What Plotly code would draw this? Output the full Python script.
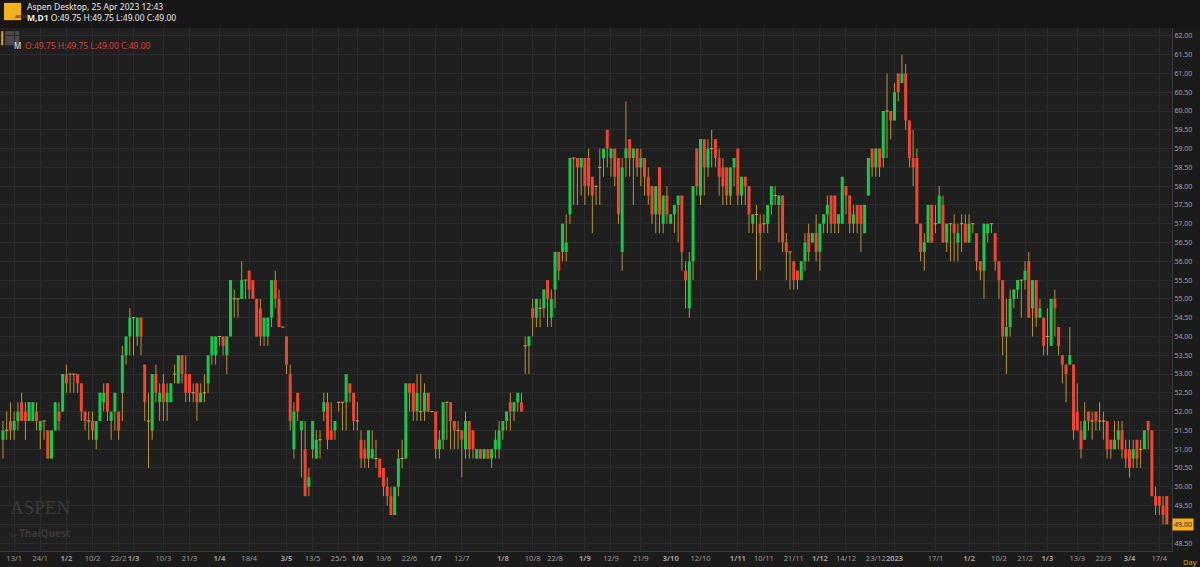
import plotly.graph_objects as go

# one string per daily candle: open close high low
candles = """
51.25 51.5 51.75 50.75|51.5 51.5 52.0 51.25|51.75 51.5 52.25 51.25|51.5 51.75 52.0 51.25|51.75 52.0 52.25 51.5
52.25 51.75 52.5 51.75|52.0 51.75 52.25 51.25|51.75 52.25 52.25 51.75|51.75 52.25 52.25 51.75|52.0 51.75 52.25 51.5
51.5 51.75 51.75 51.0|51.75 51.75 51.75 51.25|51.5 50.75 51.5 50.75|50.75 51.5 51.5 50.75|51.5 52.25 52.25 51.5
52.0 51.75 52.25 51.5|52.0 53.0 53.0 52.0|53.0 52.75 53.25 52.5|53.0 53.0 53.0 52.5|53.0 53.0 53.0 52.5
53.0 52.75 53.0 52.5|52.75 52.0 52.75 51.75|52.0 51.75 52.0 51.5|51.75 51.75 52.0 51.25|51.75 51.5 52.0 51.25
51.25 51.75 51.75 51.0|51.75 52.5 52.5 51.75|52.25 52.5 52.75 52.0|52.75 52.0 52.75 51.75|51.75 52.0 52.0 51.25
52.0 52.5 52.5 51.5|52.0 51.5 52.0 51.25|52.5 53.5 53.75 51.75|53.5 54.0 54.0 53.25|54.0 54.5 54.75 53.5
54.5 54.5 54.5 53.5|54.0 54.5 54.5 53.75|54.5 54.0 54.5 53.5|53.25 52.25 53.25 51.75|51.75 51.75 52.5 50.5
51.5 53.0 53.0 51.25|53.0 52.5 53.25 52.25|52.25 52.5 52.75 51.75|52.75 52.25 53.0 51.75|52.25 52.5 52.75 51.75
52.25 52.75 52.75 52.25|53.0 53.0 53.25 52.75|52.75 53.5 53.5 52.75|53.5 53.0 53.5 52.75|53.0 52.5 53.5 52.25
53.0 52.5 53.0 52.25|52.5 52.5 52.75 52.25|52.75 52.25 52.75 51.75|52.25 52.5 52.75 52.25|52.5 52.5 53.0 52.25
52.75 53.5 53.5 52.5|53.5 54.0 54.0 53.25|53.5 54.0 54.0 53.25|54.0 54.0 54.0 53.75|54.0 53.75 54.0 53.5
53.5 54.0 54.0 53.0|54.0 55.5 55.5 54.0|55.0 55.0 55.25 54.5|55.0 55.0 55.0 54.5|55.0 55.5 56.0 55.0
55.5 55.5 55.5 55.0|55.75 55.25 55.75 55.0|55.5 55.0 55.5 55.0|55.0 54.0 55.0 54.0|54.75 54.0 55.0 53.75
54.0 54.5 54.5 53.75|54.0 54.5 54.5 53.75|54.5 55.5 55.5 54.25|55.5 55.0 55.75 54.75|55.0 54.25 55.25 54.25
54.25 54.25 54.25 54.25|54.0 53.25 54.0 53.0|53.0 51.75 53.25 51.5|51.0 52.0 52.25 50.75|52.5 52.0 52.5 51.75
51.5 51.75 51.75 50.25|51.0 49.75 51.75 49.75|50.0 50.25 50.5 49.75|51.0 51.75 51.75 50.75|50.75 51.25 51.5 50.75
51.25 51.25 51.5 50.75|52.0 52.25 52.5 51.75|52.25 51.25 52.5 51.0|51.5 51.25 52.25 51.25|51.5 51.75 51.75 51.25
52.25 52.25 52.25 52.0|52.25 52.25 52.25 51.5|52.25 53.0 53.0 51.5|52.75 52.5 52.75 52.25|52.5 51.75 52.5 51.5
51.75 51.75 52.25 51.5|51.25 50.75 51.5 50.5|51.0 50.75 51.25 50.5|50.75 51.5 51.5 50.5|50.75 51.0 51.5 50.75
50.75 50.75 51.25 50.5|50.75 50.25 50.75 50.25|50.5 50.0 50.5 49.75|50.0 49.75 50.25 49.5|49.75 49.25 50.0 49.25
49.25 50.0 50.0 49.25|50.0 50.75 51.0 49.75|50.75 50.75 51.25 50.5|50.75 52.75 52.75 50.75|52.75 52.5 52.75 52.0
52.75 52.0 52.75 51.75|52.0 52.5 53.0 51.75|52.0 52.0 53.0 51.75|52.0 52.5 52.75 51.75|52.5 52.0 52.5 52.0
52.0 52.0 52.0 52.0|52.0 51.0 52.0 50.75|51.0 51.25 51.5 50.75|51.25 52.25 52.25 51.0|52.25 52.25 52.25 51.25
52.25 51.75 52.25 51.0|51.75 51.5 51.75 51.0|51.5 51.5 51.75 51.0|51.5 51.25 51.5 50.25|51.0 51.75 52.0 50.75
51.75 51.0 51.75 50.75|51.5 51.0 51.5 50.75|50.75 51.0 51.0 50.75|51.0 50.75 51.0 50.75|50.75 51.0 51.0 50.75
51.0 50.75 51.0 50.75|50.75 51.0 51.0 50.5|51.0 51.25 51.5 50.75|51.0 51.5 51.75 50.75|51.5 51.75 51.75 51.25
51.75 52.0 52.0 51.5|52.25 52.0 52.5 51.5|52.0 52.25 52.25 51.75|52.25 52.5 52.5 52.0|52.25 52.0 52.5 52.0
53.75 53.75 54.0 53.0|53.75 54.0 54.0 53.0|54.75 54.5 55.0 54.0|54.5 55.0 55.0 54.25|54.75 54.75 55.0 54.25
54.75 55.25 55.25 54.5|55.5 55.0 55.5 54.25|54.5 55.0 55.25 54.25|55.25 56.25 56.25 54.75|56.25 55.75 56.25 55.5
56.25 57.0 57.0 56.0|56.25 56.5 57.25 56.0|57.25 58.75 58.75 57.0|58.75 58.75 58.75 57.5|58.75 58.5 58.75 57.5
58.5 58.75 58.75 57.75|58.75 58.0 58.75 57.5|58.75 58.0 59.0 57.75|58.25 57.75 58.25 56.75|58.0 58.0 58.0 57.5
58.5 58.5 59.0 57.5|58.75 59.0 59.0 58.25|59.5 59.0 59.5 58.5|58.75 59.0 59.0 58.25|59.0 58.25 59.0 58.0
58.75 57.25 58.75 57.0|56.25 58.5 58.75 55.75|58.75 59.0 60.25 58.25|59.25 58.75 59.25 58.25|58.75 59.0 59.0 57.5
59.0 58.5 59.0 58.25|58.5 58.75 59.0 58.0|58.75 58.25 58.75 57.75|58.25 57.75 58.5 57.5|58.0 57.25 58.0 57.0
57.25 58.0 58.0 56.75|58.5 57.25 58.5 56.75|57.0 57.75 57.75 56.75|57.75 57.25 58.0 57.0|57.0 57.25 57.25 57.0
57.25 57.5 57.5 56.75|57.5 57.75 57.75 56.5|57.75 56.25 57.75 55.75|55.75 55.5 56.0 54.75|54.75 56.0 56.25 54.5
56.0 58.0 58.0 55.5|59.0 58.0 59.0 57.75|57.75 59.25 59.25 57.5|59.25 58.5 59.25 57.75|58.5 59.0 59.25 58.25
59.0 59.0 59.5 58.5|59.25 58.75 59.25 58.5|58.75 58.25 59.0 57.75|58.5 58.0 58.75 57.5|58.5 57.75 58.5 57.5
57.75 58.5 58.5 57.5|58.5 58.75 58.75 58.0|59.0 57.75 59.0 57.5|57.75 58.25 58.25 57.5|58.25 58.0 58.25 57.5
58.0 57.25 58.0 56.75|57.0 57.25 57.25 56.75|57.25 57.25 57.5 55.5|57.0 56.75 57.25 55.75|57.0 57.0 57.25 56.75
57.0 57.5 57.5 56.75|57.5 58.0 58.0 57.25|57.75 57.75 58.0 57.5|57.5 57.75 57.75 56.5|57.75 56.5 57.75 56.25
56.5 56.25 56.75 55.5|56.25 56.25 56.25 55.25|56.0 55.5 56.0 55.25|55.75 55.5 55.75 55.25|55.5 56.0 56.0 55.5
56.0 56.5 56.75 55.75|56.75 56.25 57.0 56.0|56.5 56.75 56.75 56.5|56.75 56.25 57.25 56.0|56.25 57.0 57.0 55.75
57.0 57.25 57.25 56.75|57.25 57.5 57.75 56.75|57.75 57.0 57.75 56.75|57.75 57.0 57.75 56.75|57.0 57.25 57.25 56.75
57.0 58.25 58.25 57.0|58.0 57.75 58.0 57.25|57.75 57.0 57.75 56.75|57.0 57.25 57.5 56.75|57.5 57.0 57.5 56.75
57.5 57.0 57.5 56.25|56.75 57.5 57.5 56.75|57.75 58.75 58.75 57.75|59.0 58.5 59.0 58.25|58.5 59.0 59.0 58.25
59.0 58.5 59.0 58.25|58.75 60.0 60.0 58.5|60.0 60.0 61.0 58.75|60.0 59.75 60.0 59.25|59.75 60.5 60.75 59.75
61.0 60.5 61.0 60.25|60.75 61.0 61.5 60.75|61.0 59.75 61.25 59.5|59.75 58.75 59.75 58.5|58.75 58.5 59.5 58.0
58.75 57.0 59.0 57.0|57.0 56.25 57.0 56.0|56.25 56.5 56.75 55.75|56.5 57.5 57.5 56.5|57.5 56.5 57.5 56.5
57.0 57.0 57.5 56.75|57.0 57.75 58.0 57.0|57.5 56.5 57.75 56.5|56.5 57.0 57.0 56.25|57.0 57.0 57.0 56.0
57.0 56.75 57.25 56.0|56.5 56.75 57.0 56.0|57.0 57.0 57.25 56.25|57.0 56.5 57.25 56.5|56.5 57.0 57.25 56.5
57.0 57.0 57.0 56.75|56.75 56.0 56.75 55.75|56.0 55.75 56.0 55.5|55.75 57.0 57.0 55.0|56.75 57.0 57.0 56.5
57.0 57.0 57.0 56.75|56.75 56.0 56.75 55.75|56.0 55.5 56.0 55.0|55.5 54.0 55.5 53.5|54.0 54.25 55.0 53.0
54.25 55.0 55.25 54.0|55.0 55.25 55.25 54.75|55.25 55.5 55.5 55.0|55.5 55.5 55.5 54.5|55.5 55.75 56.0 55.25
56.0 54.5 56.25 54.5|54.75 55.5 55.5 54.0|55.5 54.5 55.5 54.25|54.5 54.75 55.0 54.5|54.5 53.75 54.5 53.5
54.0 54.0 54.75 53.5|53.75 55.0 55.0 53.75|55.0 54.75 55.25 54.0|54.25 53.75 54.25 53.5|53.5 53.25 53.5 52.75
53.25 53.0 53.25 52.25|53.25 53.5 54.25 53.25|53.25 51.5 53.25 51.25|52.0 51.5 52.75 51.5|51.5 51.0 51.75 50.75
51.25 51.75 52.25 51.25|52.0 51.75 52.0 51.5|51.75 51.75 52.0 51.25|52.0 51.75 52.0 51.5|51.75 51.75 52.25 51.5
51.75 51.75 52.0 51.25|51.75 51.0 51.75 50.75|51.25 51.0 51.25 50.75|51.0 51.25 51.75 51.0|51.25 51.5 51.75 51.0
51.5 51.0 51.75 50.75|51.0 50.75 51.25 50.5|51.0 50.5 51.25 50.25|50.75 51.0 51.25 50.5|51.25 50.75 51.25 50.5
51.0 51.0 51.25 50.5|51.0 51.5 51.5 51.0|51.75 51.5 51.75 51.0|51.5 49.75 51.5 49.75|49.75 49.5 50.0 49.25
49.75 49.5 49.75 49.25|49.5 49.25 49.75 49.0|49.75 49.0 49.75 49.0
"""

tick_labels = ["13/1", "24/1", "<b>1/2</b>", "10/2", "22/2", "<b>1/3</b>", "10/3", "21/3",
               "<b>1/4</b>", "18/4", "<b>3/5</b>", "13/5", "25/5", "<b>1/6</b>", "13/6", "22/6",
               "<b>1/7</b>", "12/7", "<b>1/8</b>", "10/8", "22/8", "<b>1/9</b>", "12/9", "21/9",
               "<b>3/10</b>", "12/10", "<b>1/11</b>", "10/11", "21/11", "<b>1/12</b>", "14/12",
               "23/12", "<b>2023</b>", "17/1", "<b>1/2</b>", "10/2", "21/2", "<b>1/3</b>",
               "13/3", "22/3", "<b>3/4</b>", "17/4"]
tick_idx = [3, 10, 17, 24, 31, 35, 43, 50, 58, 66, 76, 83, 90, 95, 102, 109, 116, 123, 134,
            142, 148, 156, 163, 171, 179, 187, 197, 204, 212, 219, 226, 234, 239, 250, 259,
            267, 274, 280, 288, 295, 302, 310]

rows = [c.split() for c in candles.replace("\n", "|").split("|") if c.strip()]
opens = [float(r[0]) for r in rows]
closes = [float(r[1]) for r in rows]
highs = [float(r[2]) for r in rows]
lows = [float(r[3]) for r in rows]

GREEN, RED, WICK, DOJI = "#19c84a", "#f0452f", "#b8943a", "#e0a040"

wx, wy = [], []
gx, gy, rx, ry, dx, dy = [], [], [], [], [], []
for i, (o, h, l, c) in enumerate(zip(opens, highs, lows, closes)):
    wx += [i, i, None]; wy += [l, h, None]
    if c > o:
        gx += [i, i, None]; gy += [o, c, None]
    elif c < o:
        rx += [i, i, None]; ry += [o, c, None]
    else:
        dx += [i - 0.45, i + 0.45, None]; dy += [o, o, None]

fig = go.Figure()
fig.add_trace(go.Scatter(x=wx, y=wy, mode="lines", line=dict(color=WICK, width=1),
                         hoverinfo="skip", showlegend=False))
fig.add_trace(go.Scatter(x=gx, y=gy, mode="lines", line=dict(color=GREEN, width=3),
                         hoverinfo="skip", showlegend=False))
fig.add_trace(go.Scatter(x=rx, y=ry, mode="lines", line=dict(color=RED, width=3),
                         hoverinfo="skip", showlegend=False))
fig.add_trace(go.Scatter(x=dx, y=dy, mode="lines", line=dict(color=DOJI, width=1),
                         hoverinfo="skip", showlegend=False))

ytick = [48.5 + 0.5 * k for k in range(28)]
fig.update_layout(
    width=1200, height=567, paper_bgcolor="#1b1b1b", plot_bgcolor="#1f1f1f",
    margin=dict(l=0, r=28, t=28, b=16),
    font=dict(family="Noto Sans", color="#a8a8a8", size=7),
    xaxis=dict(range=[-0.8, 313.4], tickvals=tick_idx, ticktext=tick_labels, tickangle=0,
               showgrid=True, gridcolor="#2b2b2b", zeroline=False,
               tickfont=dict(size=7.5, color="#9a9a9a"), ticks="",
               showline=True, linecolor="#3a3a3a"),
    yaxis=dict(range=[48.29, 62.21], side="right", tickvals=ytick,
               ticktext=[f"{v:.2f}" for v in ytick], showgrid=True, gridcolor="#2b2b2b",
               zeroline=False, tickfont=dict(size=7, color="#a0a0a0"), ticks="",
               showline=True, linecolor="#3a3a3a"),
)

# header
fig.add_shape(type="rect", xref="paper", yref="paper", x0=-0.01, x1=1.04, y0=1.0, y1=1.06,
              fillcolor="#161616", line_width=0, layer="below")
fig.add_shape(type="rect", xref="paper", yref="paper", x0=0.0034, x1=0.018, y0=1.015,
              y1=1.048, fillcolor="#f2b21b", line_width=0)
fig.add_annotation(xref="paper", yref="paper", x=0.0107, y=1.031, text="<b>ASPEN</b>",
                   showarrow=False, font=dict(size=4, color="#7a2a10"))
fig.add_annotation(xref="paper", yref="paper", x=0.0215, y=1.056, xanchor="left",
                   yanchor="top", showarrow=False, align="left",
                   text="Aspen Desktop, 25 Apr 2023 12:43<br><b>M,D1</b> O:49.75 H:49.75 L:49.00 C:49.00",
                   font=dict(size=8.5, color="#e8e8e8"))
fig.add_shape(type="rect", xref="paper", yref="paper", x0=0.001, x1=0.0028, y0=0.967,
              y1=0.994, fillcolor="#e09a20", line_width=0)
fig.add_shape(type="rect", xref="paper", yref="paper", x0=0.0045, x1=0.0165, y0=0.967,
              y1=0.994, fillcolor="#4a4a4a", line_width=0, layer="below")
fig.add_annotation(xref="paper", yref="paper", x=0.0105, y=0.9805, text="M", showarrow=False,
                   font=dict(size=8, color="#e8e8e8"))
fig.add_annotation(xref="paper", yref="paper", x=0.02, y=0.9805, xanchor="left",
                   text="O:49.75 H:49.75 L:49.00 C:49.00", showarrow=False,
                   font=dict(size=8.5, color="#d8432f"))
# watermark
fig.add_annotation(xref="paper", yref="paper", x=0.007, y=0.06, xanchor="left",
                   text="ASPEN", showarrow=False,
                   font=dict(family="Liberation Serif", size=19, color="#3a3a3a"))
fig.add_annotation(xref="paper", yref="paper", x=0.007, y=0.018, xanchor="left",
                   text="<span style='font-size:6px'>by</span> <b>ThaiQuest</b>",
                   showarrow=False, font=dict(size=10, color="#3a3a3a"))
# last price and timeframe
fig.add_annotation(xref="paper", yref="y", x=1.0, y=closes[-1], xanchor="left",
                   text="49.00", showarrow=False, bgcolor="#f2b21b",
                   font=dict(size=7, color="#222222"), borderpad=1)
fig.add_annotation(xref="paper", yref="paper", x=1.008, y=-0.008, xanchor="left",
                   yanchor="top", text="Day", showarrow=False,
                   font=dict(size=7.5, color="#d4a62a"))

fig.write_html("out.html", config={"displayModeBar": False},
               post_script="document.body.style.margin='0';")
